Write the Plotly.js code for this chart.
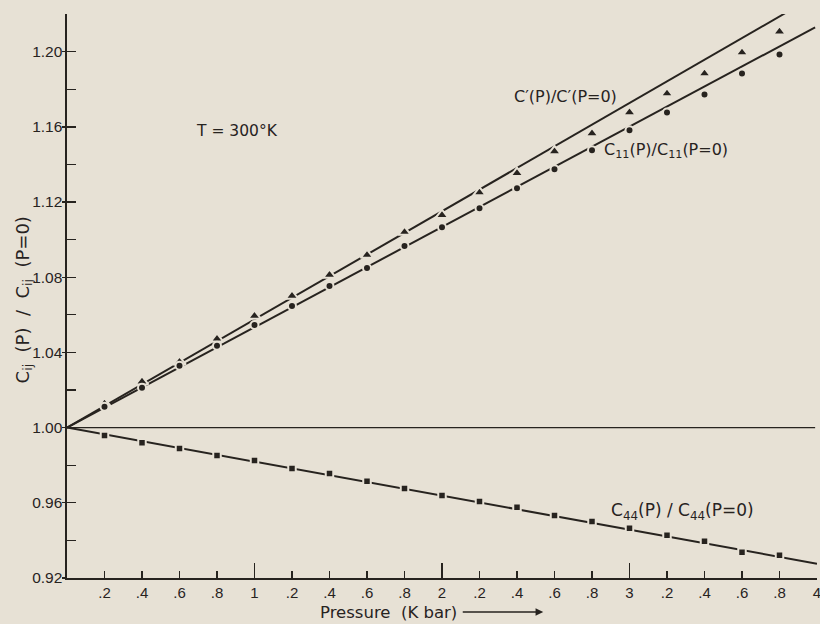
<!DOCTYPE html>
<html>
<head>
<meta charset="utf-8">
<script src="https://cdn.plot.ly/plotly-3.0.1.min.js"></script>
<style>
  html, body { margin: 0; padding: 0; background: #e7e1d5; }
  #chart { width: 820px; height: 624px; }
</style>
</head>
<body>
<div id="chart"></div>
<script>
// ---- data ----
const pressure = [0.2, 0.4, 0.6, 0.8, 1.0, 1.2, 1.4, 1.6, 1.8, 2.0, 2.2, 2.4, 2.6, 2.8, 3.0, 3.2, 3.4, 3.6, 3.8];
const cPrime = [1.0127, 1.0244, 1.0350, 1.0472, 1.0594, 1.0700, 1.0812, 1.0918, 1.1040, 1.1130, 1.1250, 1.1353, 1.1469, 1.1565, 1.1676, 1.1777, 1.1883, 1.1995, 1.2106];
const c11 = [1.0111, 1.0212, 1.0329, 1.0435, 1.0546, 1.0647, 1.0753, 1.0849, 1.0966, 1.1066, 1.1167, 1.1273, 1.1374, 1.1475, 1.1581, 1.1676, 1.1772, 1.1883, 1.1984];
const c44 = [0.9958, 0.9920, 0.9889, 0.9851, 0.9825, 0.9782, 0.9756, 0.9714, 0.9676, 0.9639, 0.9607, 0.9576, 0.9533, 0.9501, 0.9464, 0.9427, 0.9395, 0.9337, 0.9321];

// fitted straight lines (end points)
const fitCPrimeP = [0, 3.83];
const fitCPrimeV = [1, 1.2204];
const fitC11P = [0, 3.99];
const fitC11V = [1, 1.2129];
const fitC44P = [0, 4.0];
const fitC44V = [1, 0.9276];
const refP = [0, 3.99];
const refV = [1, 1];

// axis ticks
const xTickVals = [0.2, 0.4, 0.6, 0.8, 1.0, 1.2, 1.4, 1.6, 1.8, 2.0, 2.2, 2.4, 2.6, 2.8, 3.0, 3.2, 3.4, 3.6, 3.8, 4.0];
const xTickText = ['.2', '.4', '.6', '.8', '1', '.2', '.4', '.6', '.8', '2', '.2', '.4', '.6', '.8', '3', '.2', '.4', '.6', '.8', '4'];
const xMajorVals = [1, 2, 3, 3.999];
const yTickVals = [0.92, 0.96, 1.00, 1.04, 1.08, 1.12, 1.16, 1.20];
const yTickText = ['0.92', '0.96', '1.00', '1.04', '1.08', '1.12', '1.16', '1.20'];

// ---- styling ----
const BG = '#e7e1d5';
const INK = '#27231f';
const FONT = 'Liberation Sans, Arial, sans-serif';
const LFONT = 'DejaVu Sans, Verdana, sans-serif';
const NB = '\u00A0';

const traces = [
  { x: refP, y: refV, xaxis: 'x2', yaxis: 'y2', mode: 'lines',
    line: { color: INK, width: 1.4 }, hoverinfo: 'skip' },
  { x: fitCPrimeP, y: fitCPrimeV, mode: 'lines', line: { color: INK, width: 2 } },
  { x: fitC11P, y: fitC11V, mode: 'lines', line: { color: INK, width: 2 } },
  { x: fitC44P, y: fitC44V, mode: 'lines', line: { color: INK, width: 2 } },
  { x: pressure, y: cPrime, mode: 'markers',
    marker: { symbol: 'triangle-up', size: 11, color: INK, line: { color: BG, width: 2 } } },
  { x: pressure, y: c11, mode: 'markers',
    marker: { symbol: 'circle', size: 8, color: INK, line: { color: BG, width: 2 } } },
  { x: pressure, y: c44, mode: 'markers',
    marker: { symbol: 'square', size: 7.5, color: INK, line: { color: BG, width: 2 } } }
];

const layout = {
  width: 820, height: 624,
  margin: { l: 67, r: 3, t: 14, b: 46 },
  paper_bgcolor: BG, plot_bgcolor: BG,
  showlegend: false,
  font: { family: FONT, color: INK },
  xaxis: {
    range: [0, 4], showgrid: false, zeroline: false,
    showline: true, linecolor: INK, linewidth: 1.6,
    tickmode: 'array', tickvals: xTickVals, ticktext: xTickText,
    ticks: 'inside', ticklen: 7, tickwidth: 1.4, tickcolor: INK,
    ticklabeloverflow: 'allow',
    tickfont: { size: 15, family: FONT, color: INK }
  },
  xaxis2: {
    overlaying: 'x', side: 'bottom', anchor: 'y2', range: [0, 4],
    showgrid: false, zeroline: false, showline: false,
    tickmode: 'array', tickvals: xMajorVals, showticklabels: false,
    ticks: 'inside', ticklen: 15, tickwidth: 1.6, tickcolor: INK
  },
  yaxis: {
    range: [0.92, 1.22], showgrid: false, zeroline: false,
    showline: true, linecolor: INK, linewidth: 1.6,
    tickmode: 'array', tickvals: yTickVals, ticktext: yTickText,
    ticks: 'inside', ticklen: 9, tickwidth: 1.4, tickcolor: INK,
    tickfont: { size: 15.5, family: FONT, color: INK },
    minor: { tickmode: 'linear', tick0: 0.94, dtick: 0.04, ticks: 'inside', ticklen: 9, tickwidth: 1.4, tickcolor: INK, showgrid: false }
  },
  yaxis2: {
    overlaying: 'y', side: 'left', anchor: 'x2', range: [0.92, 1.22],
    showgrid: false, zeroline: false, showline: false,
    tickmode: 'array', tickvals: yTickVals, showticklabels: false,
    ticks: 'outside', ticklen: 4, tickwidth: 1.4, tickcolor: INK
  },
  annotations: [
    { xref: 'x', yref: 'y', x: 0.907, y: 1.1576, showarrow: false,
      xanchor: 'center', yanchor: 'middle',
      text: 'T = 300°K', font: { size: 15.5, family: LFONT, color: INK } },
    { xref: 'x', yref: 'y', x: 2.656, y: 1.1762, showarrow: false,
      xanchor: 'center', yanchor: 'middle',
      text: 'C′(P)/C′(P=0)', font: { size: 16, family: LFONT, color: INK } },
    { xref: 'x', yref: 'y', x: 3.195, y: 1.1474, showarrow: false,
      xanchor: 'center', yanchor: 'middle',
      text: 'C<sub>11</sub>(P)/C<sub>11</sub>(P=0)', font: { size: 16, family: LFONT, color: INK } },
    { xref: 'x', yref: 'y', x: 3.28, y: 0.9553, showarrow: false,
      xanchor: 'center', yanchor: 'middle',
      text: 'C<sub>44</sub>(P) / C<sub>44</sub>(P=0)', font: { size: 17, family: LFONT, color: INK } },
    { xref: 'paper', yref: 'paper', x: 0.429, y: -0.0603, showarrow: false,
      xanchor: 'center', yanchor: 'middle',
      text: 'Pressure' + NB + NB + '(K bar)', font: { size: 16.5, family: LFONT, color: INK } },
    { xref: 'paper', yref: 'paper', x: 0.635, y: -0.0603, ax: -82, ay: 0,
      text: '', showarrow: true, arrowhead: 2, arrowsize: 1.1, arrowwidth: 1.4, arrowcolor: INK },
    { xref: 'paper', yref: 'paper', x: -0.058, y: 0.493, showarrow: false, textangle: -90,
      xanchor: 'center', yanchor: 'middle',
      text: 'C<sub>ij</sub>' + NB + NB + '(P)' + NB + NB + '/' + NB + NB + 'C<sub>ij</sub>' + NB + NB + '(P=0)',
      font: { size: 18, family: LFONT, color: INK } }
  ]
};

Plotly.newPlot('chart', traces, layout, { displayModeBar: false, staticPlot: true });
</script>
</body>
</html>
